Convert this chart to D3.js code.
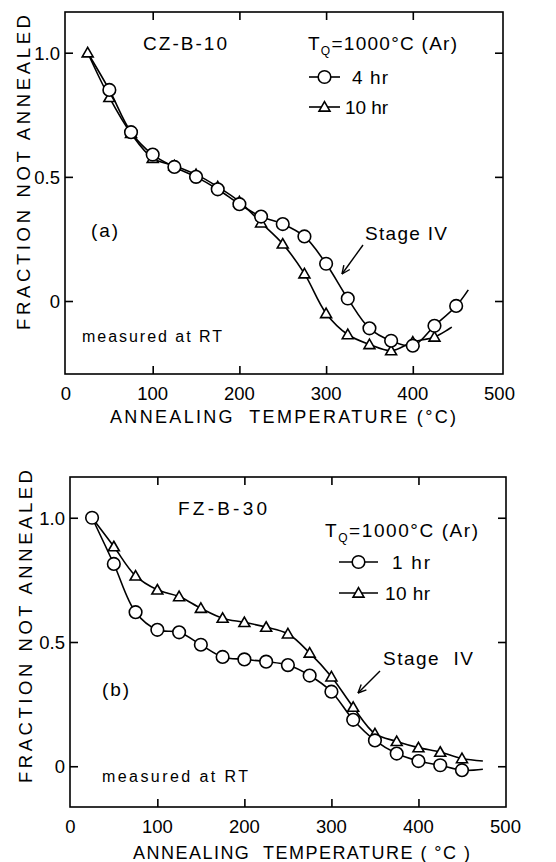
<!DOCTYPE html>
<html><head><meta charset="utf-8">
<script src="https://cdn.jsdelivr.net/npm/d3@7"></script>
<style>
body{margin:0;background:#fff}
text{font-family:"Liberation Sans",Arial,sans-serif;fill:#000}
</style>
</head><body>
<svg id="c" width="556" height="862"></svg>
<script>
// ---------- data ----------
const xTicks = [0, 100, 200, 300, 400, 500];
const yTicks = [0, 0.5, 1.0];
const yTickLabels = ["0", "0.5", "1.0"];

// panel (a) CZ-B-10
const aTemps4h = [50,75,100,125,150,175,200,225,250,275,300,325,350,375,400,425,450];
const aVals4h  = [0.85,0.68,0.59,0.54,0.50,0.45,0.39,0.34,0.31,0.26,0.15,0.01,-0.11,-0.16,-0.18,-0.10,-0.02];
const aTemps10h = [25,50,75,100,125,150,175,200,225,250,275,300,325,350,375,400,425];
const aVals10h  = [1.0,0.82,0.675,0.575,0.545,0.51,0.46,0.40,0.315,0.23,0.11,-0.05,-0.135,-0.175,-0.20,-0.165,-0.145];
const aFit4hStart = [25, 1.0];
const aFit4hEnd = [464, 0.045];
const aFit10hEnd = [445, -0.105];

// panel (b) FZ-B-30
const bTemps1h = [25,50,75,100,125,150,175,200,225,250,275,300,325,350,375,400,425,450];
const bVals1h  = [1.0,0.814,0.62,0.549,0.539,0.489,0.44,0.43,0.421,0.407,0.365,0.30,0.187,0.104,0.051,0.021,0.004,-0.016];
const bTemps10h = [50,75,100,125,150,175,200,225,250,275,300,325,350,375,400,425,450];
const bVals10h  = [0.884,0.766,0.71,0.683,0.636,0.596,0.579,0.56,0.533,0.456,0.36,0.238,0.131,0.10,0.075,0.057,0.031];
const bFit10hStart = [25, 1.0];
const bFit1hEnd = [474, -0.012];
const bFit10hEnd = [474, 0.021];

const svg = d3.select("#c");

function fitText(sel, len) {
  return sel.attr("textLength", len).attr("lengthAdjust", "spacing");
}

function panel(cfg) {
  const g = svg.append("g");
  const x = d3.scaleLinear().domain([0, 500]).range(cfg.xRange);
  const y = d3.scaleLinear().domain(cfg.yDomain).range([cfg.bottom, cfg.top]);

  g.append("rect").attr("x", cfg.left).attr("y", cfg.top)
    .attr("width", cfg.right - cfg.left).attr("height", cfg.bottom - cfg.top)
    .attr("fill", "none").attr("stroke", "#000").attr("stroke-width", 1.6);

  const tl = 8;
  const inner = xTicks.filter(t => t > 0 && t < 500);
  const axes = [
    [d3.axisTop(x).tickValues(inner).tickSize(tl).tickFormat(""), `translate(0,${cfg.bottom})`],
    [d3.axisBottom(x).tickValues(inner).tickSize(tl).tickFormat(""), `translate(0,${cfg.top})`],
    [d3.axisRight(y).tickValues(yTicks).tickSize(tl).tickFormat(""), `translate(${cfg.left},0)`],
    [d3.axisLeft(y).tickValues(yTicks).tickSize(tl).tickFormat(""), `translate(${cfg.right},0)`]
  ];
  axes.forEach(([ax, tr]) => {
    const a = g.append("g").attr("transform", tr).call(ax);
    a.select(".domain").remove();
    a.selectAll("line").attr("stroke", "#000").attr("stroke-width", 1.6);
  });

  g.selectAll(".xl").data(xTicks).enter().append("text")
    .attr("x", d => x(d)).attr("y", cfg.bottom + 26)
    .attr("text-anchor", "middle").attr("font-size", 18.5).text(d => d);
  g.selectAll(".yl").data(yTicks).enter().append("text")
    .attr("x", cfg.left - 5).attr("y", d => y(d) + 7)
    .attr("text-anchor", "end").attr("font-size", 18.5)
    .text((d, i) => yTickLabels[i]);

  fitText(g.append("text").attr("x", cfg.xTitle[0]).attr("y", cfg.bottom + cfg.xTitleDy)
    .attr("font-size", 18).attr("xml:space", "preserve")
    .text(cfg.xTitleText), cfg.xTitle[1] - cfg.xTitle[0]);
  fitText(g.append("text").attr("transform", `translate(${cfg.yTitleX},${cfg.yTitle[1]}) rotate(-90)`)
    .attr("font-size", 18.5)
    .text("FRACTION NOT ANNEALED"), cfg.yTitle[1] - cfg.yTitle[0]);

  const line = d3.line().x(d => x(d[0])).y(d => y(d[1])).curve(d3.curveCatmullRom.alpha(0.5));
  cfg.series.forEach(s => {
    const pts = s.temps.map((t, i) => [t, s.vals[i]]);
    const fit = (s.start ? [s.start] : []).concat(pts).concat(s.end ? [s.end] : []);
    g.append("path").attr("d", line(fit)).attr("fill", "none")
      .attr("stroke", "#000").attr("stroke-width", 1.6);
  });
  cfg.series.forEach(s => {
    const pts = s.temps.map((t, i) => [t, s.vals[i]]);
    drawMarkers(g, pts.map(p => [x(p[0]), y(p[1])]), s.shape);
  });
  return {x, y, g};
}

const tri = d3.symbol().type(d3.symbolTriangle).size(52);
function drawMarkers(g, pts, shape) {
  if (shape === "circle") {
    g.selectAll(null).data(pts).enter().append("circle")
      .attr("cx", d => d[0]).attr("cy", d => d[1]).attr("r", 6.3)
      .attr("fill", "#fff").attr("stroke", "#000").attr("stroke-width", 1.6);
  } else {
    g.selectAll(null).data(pts).enter().append("path")
      .attr("d", tri).attr("transform", d => `translate(${d[0]},${d[1] + 1})`)
      .attr("fill", "#fff").attr("stroke", "#000").attr("stroke-width", 1.6);
  }
}

function legendItem(g, x0, x1, yy, shape, label, tx, tw) {
  g.append("line").attr("x1", x0).attr("x2", x1).attr("y1", yy).attr("y2", yy)
    .attr("stroke", "#000").attr("stroke-width", 1.6);
  drawMarkers(g, [[(x0 + x1) / 2, yy]], shape);
  fitText(g.append("text").attr("x", tx).attr("y", yy + 7).attr("font-size", 19)
    .attr("xml:space", "preserve").text(label), tw);
}

function tq(g, xx, yy, w) {
  const t = g.append("text").attr("x", xx).attr("y", yy).attr("font-size", 19)
    .attr("xml:space", "preserve");
  t.append("tspan").text("T");
  t.append("tspan").attr("font-size", 12).attr("dy", 5).text("Q");
  t.append("tspan").attr("dy", -5).text("=1000°C (Ar)");
  fitText(t, w);
}

function arrow(g, x0, y0, x1, y1) {
  g.append("line").attr("x1", x0).attr("y1", y0).attr("x2", x1).attr("y2", y1)
    .attr("stroke", "#000").attr("stroke-width", 1.4);
  const ang = Math.atan2(y1 - y0, x1 - x0), L = 9;
  [0.42, -0.42].forEach(d => {
    g.append("line").attr("x1", x1).attr("y1", y1)
      .attr("x2", x1 - L * Math.cos(ang + d)).attr("y2", y1 - L * Math.sin(ang + d))
      .attr("stroke", "#000").attr("stroke-width", 1.4);
  });
}

// ---------- panel (a) ----------
const A = panel({
  left: 65, right: 503, top: 12, bottom: 374, xRange: [66, 499.5], yDomain: [-0.294, 1.164],
  xTitle: [110, 456], xTitleDy: 49, xTitleText: "ANNEALING  TEMPERATURE (°C)",
  yTitleX: 30, yTitle: [15, 330],
  series: [
    {temps: aTemps10h, vals: aVals10h, shape: "triangle", end: aFit10hEnd},
    {temps: aTemps4h, vals: aVals4h, shape: "circle", start: aFit4hStart, end: aFit4hEnd}
  ]
});
fitText(A.g.append("text").attr("x", 143).attr("y", 50).attr("font-size", 19).text("CZ-B-10"), 84);
tq(A.g, 308, 50, 149);
legendItem(A.g, 309, 340, 77, "circle", "4 hr", 352, 36);
legendItem(A.g, 309, 340, 107, "triangle", "10 hr", 345, 43);
fitText(A.g.append("text").attr("x", 91).attr("y", 237).attr("font-size", 19).text("(a)"), 27);
fitText(A.g.append("text").attr("x", 365).attr("y", 240).attr("font-size", 19).text("Stage IV"), 82);
arrow(A.g, 363, 245, 342, 274);
fitText(A.g.append("text").attr("x", 82).attr("y", 342).attr("font-size", 16).text("measured at RT"), 140);

// ---------- panel (b) ----------
const B = panel({
  left: 70, right: 506, top: 477, bottom: 807, xRange: [70.3, 505.5], yDomain: [-0.164, 1.164],
  xTitle: [133, 470], xTitleDy: 52, xTitleText: "ANNEALING  TEMPERATURE ( °C )",
  yTitleX: 32, yTitle: [470, 783],
  series: [
    {temps: bTemps10h, vals: bVals10h, shape: "triangle", start: bFit10hStart, end: bFit10hEnd},
    {temps: bTemps1h, vals: bVals1h, shape: "circle", end: bFit1hEnd}
  ]
});
fitText(B.g.append("text").attr("x", 178).attr("y", 515).attr("font-size", 19).text("FZ-B-30"), 89);
tq(B.g, 325, 537, 153);
legendItem(B.g, 339, 378, 562, "circle", "1 hr", 392, 38);
legendItem(B.g, 339, 378, 593, "triangle", "10 hr", 385, 45);
fitText(B.g.append("text").attr("x", 102).attr("y", 696).attr("font-size", 19).text("(b)"), 27);
fitText(B.g.append("text").attr("x", 383).attr("y", 665).attr("font-size", 19)
  .attr("xml:space", "preserve").text("Stage  IV"), 90);
arrow(B.g, 380, 671, 358, 693);
fitText(B.g.append("text").attr("x", 102).attr("y", 782).attr("font-size", 16)
  .attr("xml:space", "preserve").text("measured at RT"), 146);
</script>
</body></html>
